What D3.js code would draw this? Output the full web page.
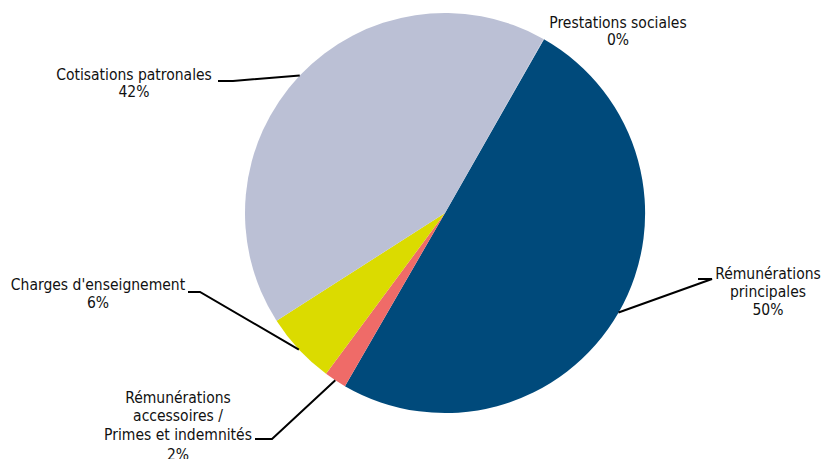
<!DOCTYPE html>
<html lang="fr">
<head>
<meta charset="utf-8">
<script src="https://d3js.org/d3.v7.min.js"></script>
<style>
  body { margin: 0; background: #fff; }
  text { font-family: "DejaVu Sans Condensed", "Liberation Sans Narrow", "Liberation Sans", sans-serif; font-size: 15.5px; fill: #111; }
</style>
</head>
<body>
<script>
// data, in the order the slices run clockwise
var categories = ["Rémunérations principales", "Rémunérations accessoires / Primes et indemnités",
                  "Charges d'enseignement", "Cotisations patronales", "Prestations sociales"];
var values = [50.1, 1.8, 5.8, 42.25, 0.05];
var pctLabels = ["50%", "2%", "6%", "42%", "0%"];
var colors = ["#004A7B", "#EF6B68", "#DBDB00", "#BBC0D5", "#BBC0D5"];

// label layout (text lines, centre x, line y's, leader elbow)
var labelLines = [
  ["Rémunérations", "principales", "50%"],
  ["Rémunérations", "accessoires /", "Primes et indemnités", "2%"],
  ["Charges d'enseignement", "6%"],
  ["Cotisations patronales", "42%"],
  ["Prestations sociales", "0%"]
];
var labelX = [768, 178, 98, 134, 618];
var labelY = [[274, 292, 310], [398, 416, 435, 455], [285, 303], [75, 92], [23, 40]];
var elbows = [[[698, 279], [712, 279]], [[255, 439], [272, 439]], [[188, 292], [200, 292]], [[218, 81], [233, 81]], null];

var width = 821, height = 459;
var cx = 445, cy = 213, r = 200;
var start = 29.66 * Math.PI / 180;

var svg = d3.select("body").append("svg")
    .attr("width", width)
    .attr("height", height);

var pie = d3.pie().sort(null)
    .startAngle(start)
    .endAngle(start + 2 * Math.PI);

var arcs = pie(values);
var arc = d3.arc().innerRadius(0).outerRadius(r);

var g = svg.append("g").attr("transform", "translate(" + cx + "," + cy + ")");

g.selectAll("path")
  .data(arcs)
  .enter().append("path")
  .attr("d", arc)
  .attr("fill", function (d, i) { return colors[i]; });

// leader lines: from elbow to the slice edge at its mid angle
arcs.forEach(function (d, i) {
  if (!elbows[i]) return;
  var a = (d.startAngle + d.endAngle) / 2;
  var px = cx + r * Math.sin(a), py = cy - r * Math.cos(a);
  var pts = elbows[i].concat([[px, py]]);
  svg.append("path")
    .attr("d", d3.line()(pts))
    .attr("fill", "none")
    .attr("stroke", "#000")
    .attr("stroke-width", 2);
});

// labels
labelLines.forEach(function (lines, i) {
  var t = svg.append("text").attr("text-anchor", "middle");
  lines.forEach(function (s, j) {
    t.append("tspan")
      .attr("x", labelX[i])
      .attr("y", labelY[i][j] + 5)
      .text(s);
  });
});
</script>
</body>
</html>
